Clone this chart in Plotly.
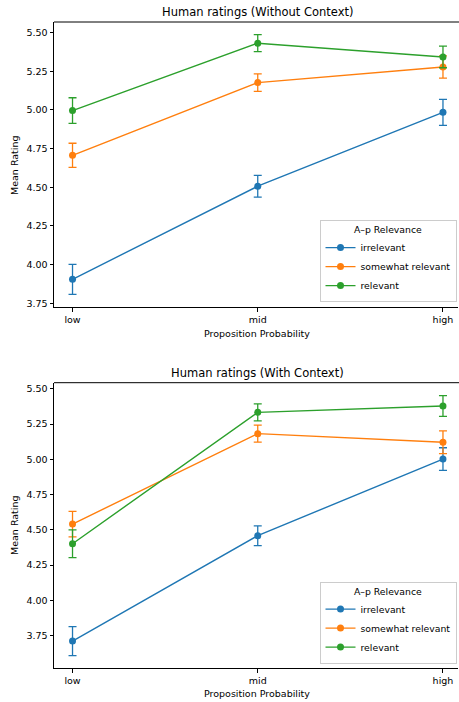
import plotly.graph_objects as go

categories = ["low", "mid", "high"]
series_names = ["irrelevant", "somewhat relevant", "relevant"]
colors = ["#1f77b4", "#ff7f0e", "#2ca02c"]

# Without context
wo_irrelevant = [3.905, 4.507, 4.985]
wo_irrelevant_err = [0.097, 0.07, 0.084]
wo_somewhat = [4.707, 5.177, 5.278]
wo_somewhat_err = [0.078, 0.056, 0.072]
wo_relevant = [4.996, 5.432, 5.343]
wo_relevant_err = [0.083, 0.055, 0.07]

# With context
w_irrelevant = [3.712, 4.459, 5.002]
w_irrelevant_err = [0.103, 0.07, 0.08]
w_somewhat = [4.541, 5.182, 5.121]
w_somewhat_err = [0.09, 0.06, 0.08]
w_relevant = [4.402, 5.333, 5.378]
w_relevant_err = [0.098, 0.06, 0.073]

ytick_vals = [3.75, 4.00, 4.25, 4.50, 4.75, 5.00, 5.25, 5.50]

W, H = 459, 702
L = 54
FONT = "DejaVu Sans"

fig = go.Figure()

panels = [
    ("x", "y", "legend", [wo_irrelevant, wo_somewhat, wo_relevant],
     [wo_irrelevant_err, wo_somewhat_err, wo_relevant_err]),
    ("x2", "y2", "legend2", [w_irrelevant, w_somewhat, w_relevant],
     [w_irrelevant_err, w_somewhat_err, w_relevant_err]),
]
xpos = list(range(len(categories)))
for xa, ya, lg, vals, errs in panels:
    for name, c, v, e in zip(series_names, colors, vals, errs):
        fig.add_trace(go.Scatter(
            x=xpos, y=v, name=name, xaxis=xa, yaxis=ya, legend=lg,
            mode="lines+markers",
            line=dict(color=c, width=1.4),
            marker=dict(color=c, size=7),
            error_y=dict(type="data", array=e, visible=True, color=c,
                         thickness=1.3, width=4),
        ))

def py(p):
    return 1 - p / H

def px(p):
    return (p - L) / (W - L)

XDOM = [0, 0.997]
xcommon = dict(range=[-0.1, 2.08], tickvals=xpos, ticktext=categories,
               showline=True, linecolor="black", linewidth=1, mirror=False,
               ticks="outside", ticklen=3.5, tickcolor="black",
               showgrid=False, zeroline=False,
               tickfont=dict(family=FONT, size=9.5, color="black"))
ycommon = dict(tickvals=ytick_vals, tickformat=".2f",
               showline=True, linecolor="black", linewidth=1, mirror=False,
               ticks="outside", ticklen=3.5, tickcolor="black",
               showgrid=False, zeroline=False,
               tickfont=dict(family=FONT, size=9.5, color="black"))

legcommon = dict(
    xanchor="right", yanchor="bottom", x=px(456.5),
    bgcolor="rgba(255,255,255,0.8)", bordercolor="#cccccc", borderwidth=1,
    font=dict(family=FONT, size=9.3, color="black"),
    title=dict(text="A\u2013p Relevance", side="top center",
               font=dict(family=FONT, size=9.3, color="black")),
    tracegroupgap=0, itemwidth=30,
)

fig.update_layout(
    width=W, height=H,
    margin=dict(l=L, r=0, t=0, b=0),
    plot_bgcolor="white", paper_bgcolor="white",
    font=dict(family=FONT, color="black"),
    xaxis=dict(domain=XDOM, anchor="y", **xcommon),
    yaxis=dict(domain=[py(307.3), py(22)], range=[3.724, 5.569], anchor="x", **ycommon),
    xaxis2=dict(domain=XDOM, anchor="y2", **xcommon),
    yaxis2=dict(domain=[py(668.3), py(382.7)], range=[3.519, 5.543], anchor="x2", **ycommon),
    legend=dict(y=py(302), **legcommon),
    legend2=dict(y=py(663.5), **legcommon),
    showlegend=True,
)

# top spines (right spine lies beyond the visible figure edge)
for xd, yd in [("x domain", "y domain"), ("x2 domain", "y2 domain")]:
    fig.add_shape(type="line", xref="paper", yref=yd, x0=0, x1=1, y0=1, y1=1,
                  line=dict(color="black", width=1))

annots = [
    ("Human ratings (Without Context)", 257, 12, 11.5, 0),
    ("Human ratings (With Context)", 257, 373, 11.5, 0),
    ("Proposition Probability", 257, 333, 9.5, 0),
    ("Proposition Probability", 257, 693, 9.5, 0),
    ("Mean Rating", 14, 165, 9.5, -90),
    ("Mean Rating", 14, 525, 9.5, -90),
]
for text, ax, ay, size, rot in annots:
    fig.add_annotation(text=text, xref="paper", yref="paper",
                       x=px(ax), y=py(ay), xanchor="center", yanchor="middle",
                       showarrow=False, textangle=rot,
                       font=dict(family=FONT, size=size, color="black"))

fig.write_html("out.html", config={"displayModeBar": False})

with open("out.html", encoding="utf-8") as f:
    html = f.read()
html = html.replace("<head>", "<head><style>html,body{margin:0;padding:0;overflow:hidden;}</style>", 1)
with open("out.html", "w", encoding="utf-8") as f:
    f.write(html)
